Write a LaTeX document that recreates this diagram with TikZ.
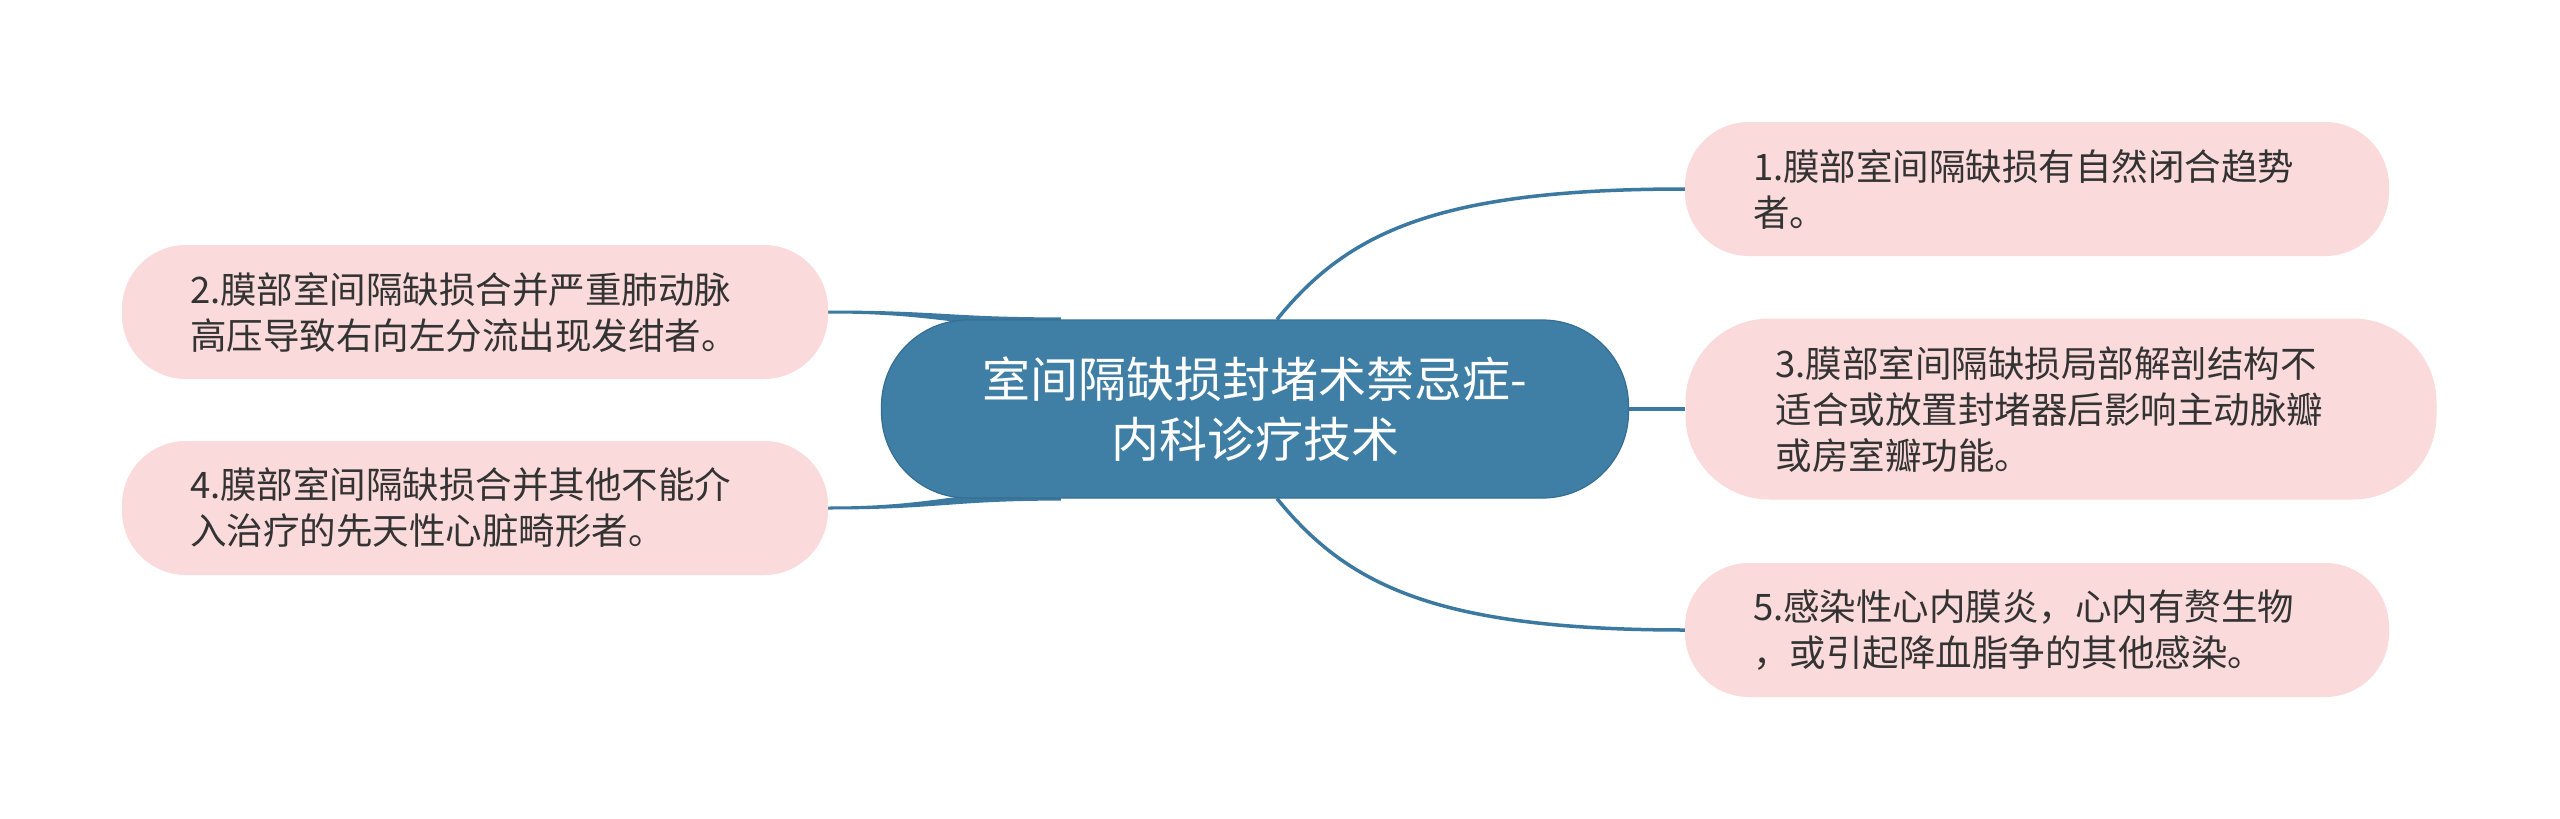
\documentclass[tikz,border=0pt]{standalone}
\usepackage{fontspec}
\setmainfont{Noto Sans CJK SC}
\usetikzlibrary{backgrounds,calc}
\definecolor{cfill}{HTML}{3F7EA5}
\definecolor{cborder}{HTML}{356E92}
\definecolor{cline}{HTML}{3C79A0}
\definecolor{leaf}{HTML}{FADADA}
\definecolor{txt}{HTML}{333333}
\tikzset{
  central/.style={fill=cfill, draw=cborder, line width=1.2pt, rounded corners=86pt,
    minimum width=747pt, minimum height=178pt, text=white, align=center,
    font=\fontsize{48}{60}\selectfont, inner sep=0pt},
  leafbox/.style={fill=leaf, rounded corners=64pt, minimum width=704pt,
    minimum height=134pt, text=txt, align=left, inner ysep=0pt, inner xsep=68pt,
    text width=568pt, font=\fontsize{36.5}{46}\selectfont},
  conn/.style={draw=cline, line width=3.5pt},
  taper/.style={fill=cline}
}
\begin{document}
\begin{tikzpicture}[x=1pt,y=-1pt]
\useasboundingbox (0,0) rectangle (2560,819);
\node[central] (c) at (1255,409) {室间隔缺损封堵术禁忌症-\\内科诊疗技术};
\node[leafbox] (n1) at (2037,189) {1.膜部室间隔缺损有自然闭合趋势\\者。};
\node[leafbox, minimum height=181pt, rounded corners=84pt, inner xsep=90pt, text width=571pt] (n3) at (2061,409) {3.膜部室间隔缺损局部解剖结构不\\适合或放置封堵器后影响主动脉瓣\\或房室瓣功能。};
\node[leafbox] (n5) at (2037,630) {5.感染性心内膜炎，心内有赘生物\\，或引起降血脂争的其他感染。};
\node[leafbox, text width=570pt] (n2) at (475,312) {2.膜部室间隔缺损合并严重肺动脉\\高压导致右向左分流出现发绀者。};
\node[leafbox, text width=570pt] (n4) at (475,508) {4.膜部室间隔缺损合并其他不能介\\入治疗的先天性心脏畸形者。};
\begin{scope}[on background layer]
  \fill[white] (0,0) rectangle (2560,819);
  \coordinate (ct) at ($(c.north)+(22,0)$);
  \coordinate (cb) at ($(c.south)+(22,0)$);
  \draw[conn] (ct) .. controls +(70,-86) and +(-250,0) .. (n1.west);
  \draw[conn] (cb) .. controls +(70,86) and +(-250,0) .. (n5.west);
  \draw[conn] (c.east) -- (n3.west);
  \coordinate (e2) at ($(c.north west)+(180,0)$);
  \coordinate (e4) at ($(c.south west)+(180,0)$);
  \fill[taper] ($(n2.east)+(0,-1.5)$) .. controls +(110,0) and +(-110,0) .. ($(e2)+(0,-2)$)
     -- ($(e2)+(0,8)$) .. controls +(-110,0) and +(110,0) .. ($(n2.east)+(0,1.5)$) -- cycle;
  \fill[taper] ($(n4.east)+(0,1.5)$) .. controls +(110,0) and +(-110,0) .. ($(e4)+(0,2)$)
     -- ($(e4)+(0,-8)$) .. controls +(-110,0) and +(110,0) .. ($(n4.east)+(0,-1.5)$) -- cycle;
\end{scope}
\end{tikzpicture}
\end{document}
